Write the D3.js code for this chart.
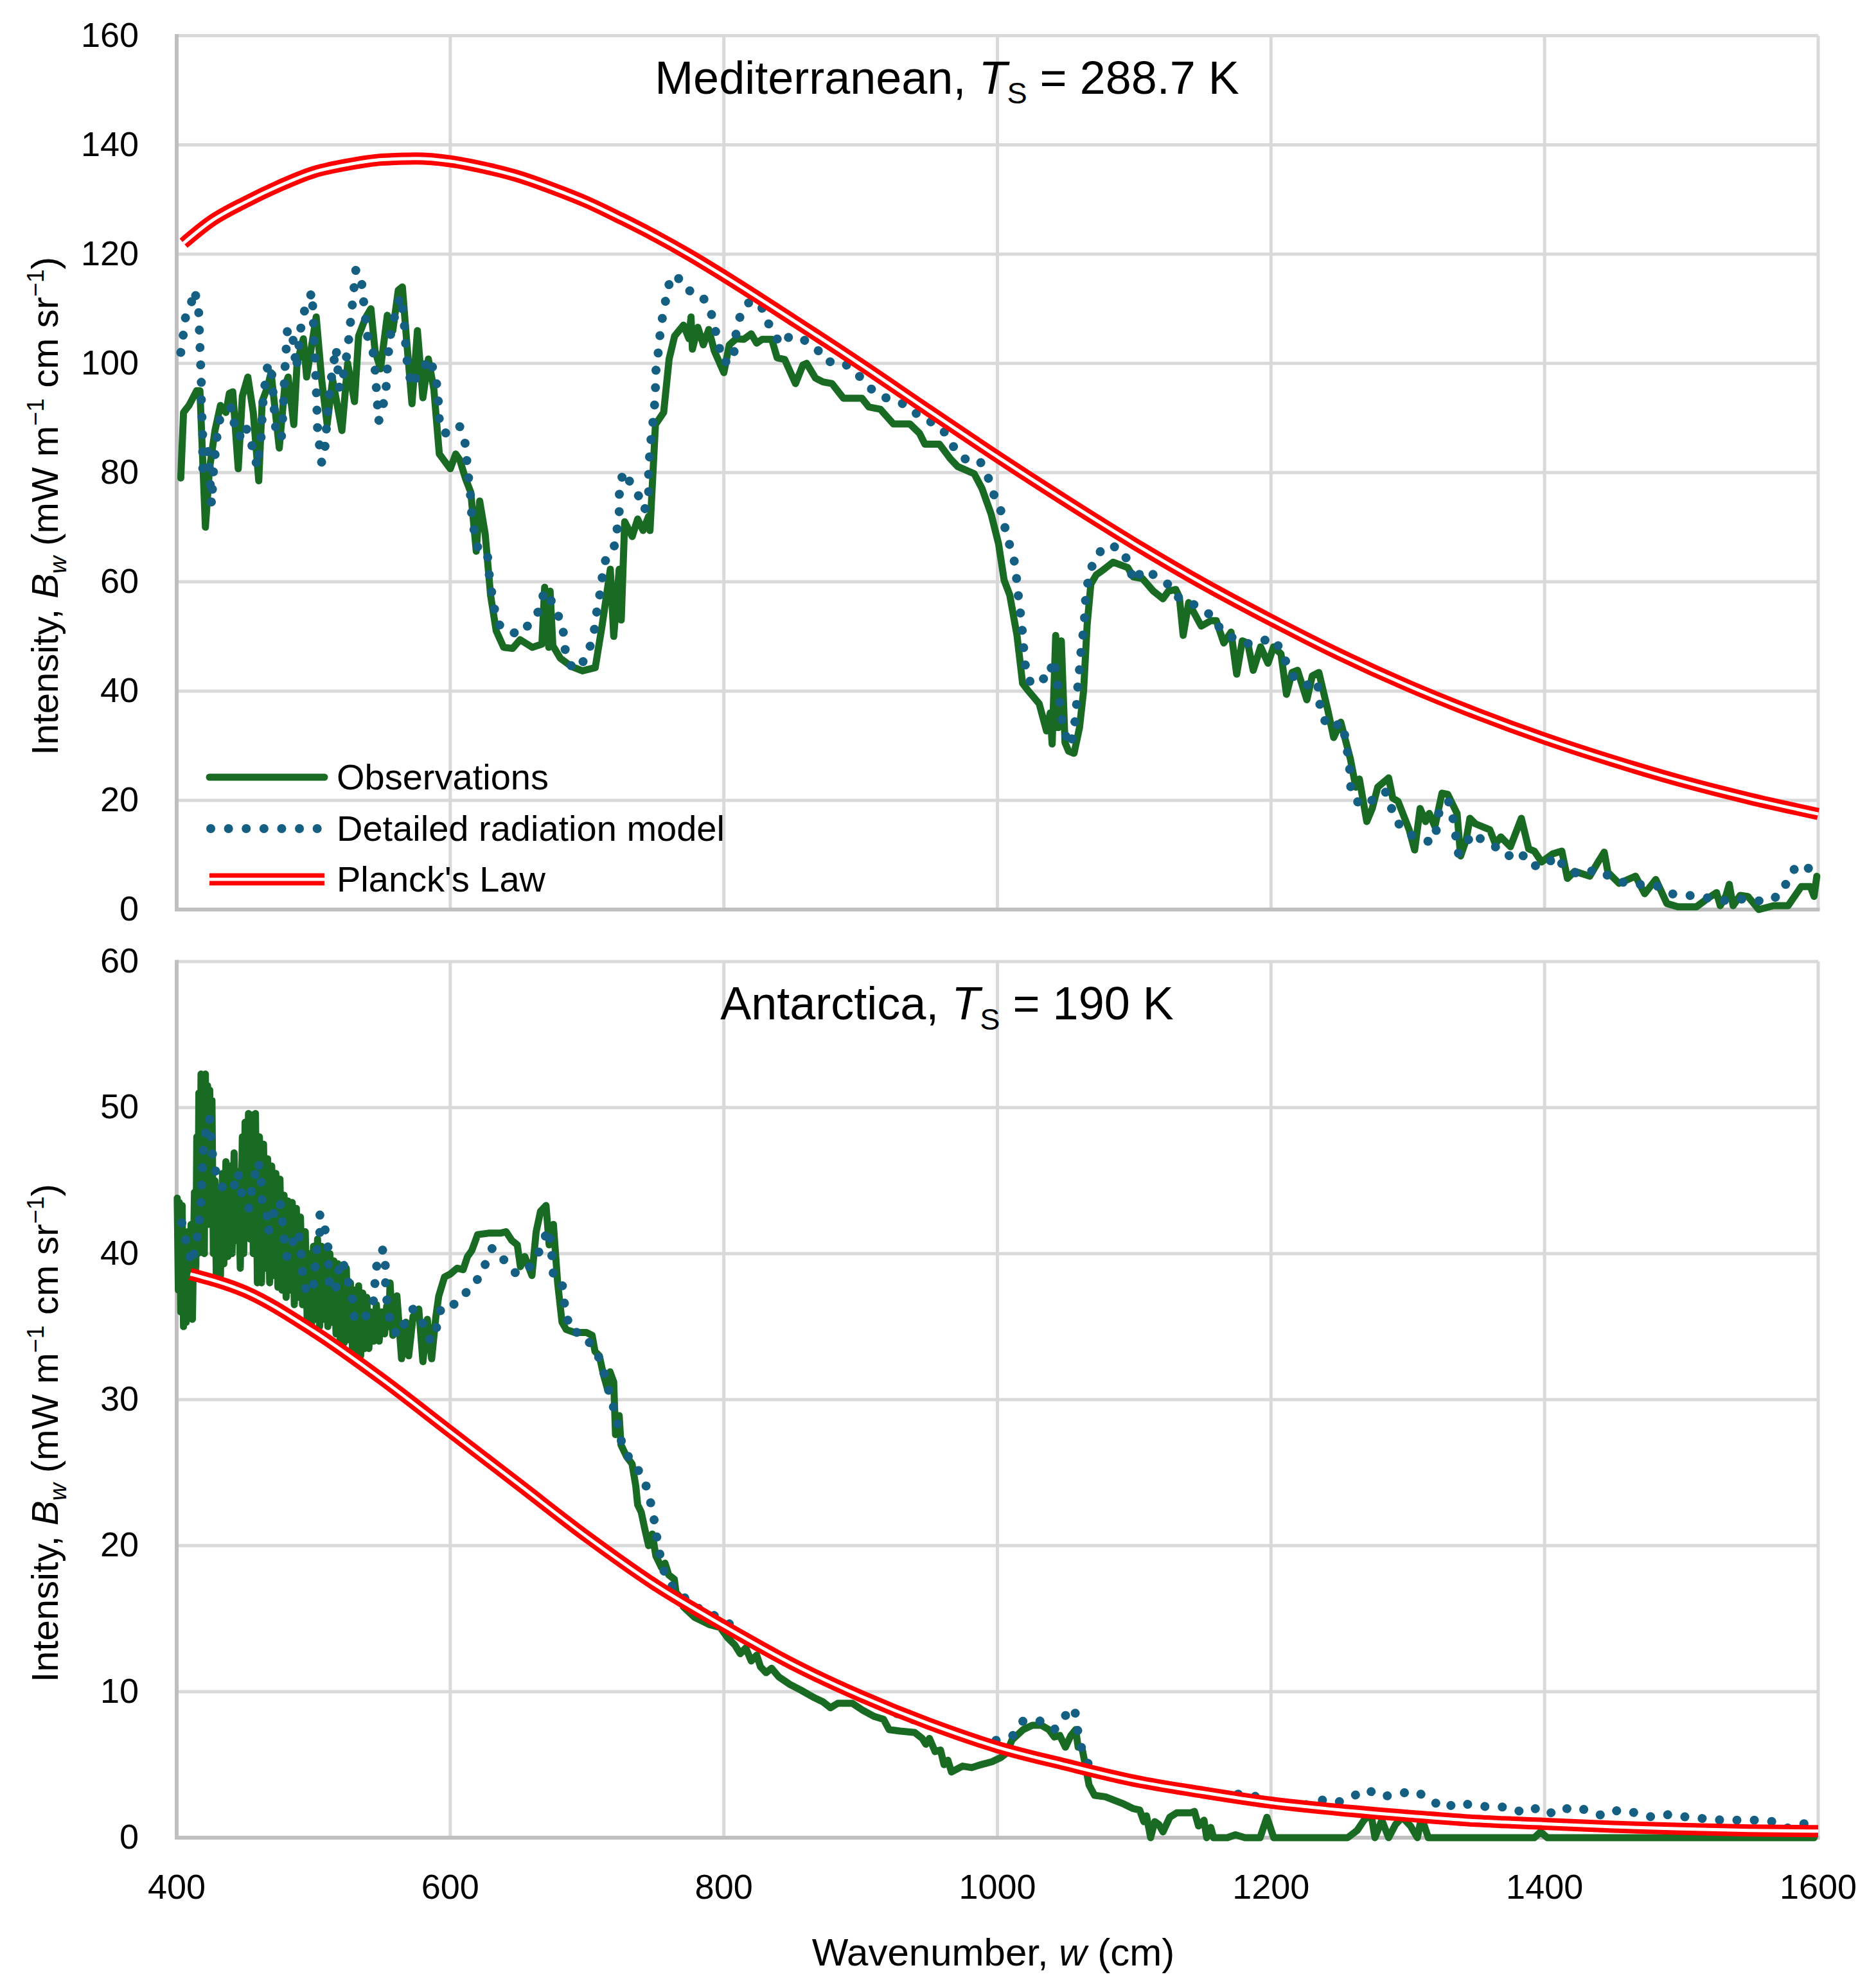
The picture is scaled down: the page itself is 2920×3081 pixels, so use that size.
<!DOCTYPE html>
<html>
<head>
<meta charset="utf-8">
<script src="https://cdn.jsdelivr.net/npm/d3@7"></script>
<style>
  html, body { margin: 0; padding: 0; background: #fff; }
  svg { display: block; font-family: "Liberation Sans", Arial, sans-serif; }
</style>
</head>
<body>
<svg id="chart" width="2920" height="3081"></svg>
<script>
// ---- data (wavenumber cm-1, intensity mW m-1 cm sr-1) ----
const xTicks = [400, 600, 800, 1000, 1200, 1400, 1600];
const medTicks = [0, 20, 40, 60, 80, 100, 120, 140, 160];
const antTicks = [0, 10, 20, 30, 40, 50, 60];
const seriesNames = ["Observations", "Detailed radiation model", "Planck's Law"];

const medObs = [[403,79],[405,91],[409,92.3],[414.6,95],[417,95],[421,70],[424,80.7],[428,87.7],[432,92.3],[436,91],[438.5,94.5],[441,94.8],[445,80.7],[448,94],[452,97.5],[456,91],[460,78.5],[462.5,93],[466.6,95.8],[469,98.3],[475,84.5],[479,95.8],[481.5,97.5],[485.6,88.8],[488,100],[492.6,104.5],[495,97.5],[502,108.5],[506,97],[510,88.8],[514,97],[520.8,87.7],[525,100],[530,93],[533,105],[538,108.3],[542,110],[545,102.3],[549,99],[554,108.8],[558,106],[562,113.4],[565,114],[568,104.5],[572,92.6],[576,106],[580,93.7],[584,100.8],[588,95.3],[592,83.4],[600,80.7],[604,83.4],[607,82.3],[611,79],[615,76.4],[619,65.6],[621.5,74.8],[625.5,68.8],[629.5,57.5],[633.6,51],[639,48],[645.6,47.8],[651,49.4],[660,48],[667,48.6],[669,59],[672,48],[673,58.3],[675,48.3],[680.5,46],[688.6,44.5],[696.6,43.7],[706,44.3],[711,52],[717,62.3],[719.5,50],[723.5,62.3],[725,53],[727.5,71],[733,68.3],[737,71.5],[741,69.4],[745,72],[746,69.4],[750,88.8],[756,91],[760,100.8],[764,105],[770.5,107],[774.5,104.5],[776,108.5],[777,102.6],[781,106.6],[785,103.4],[789,106.2],[793,102.3],[800,98.3],[804,103.4],[809,104.5],[814.6,104.4],[820,105.4],[824,103.7],[828,104.4],[835,104.4],[839,101],[844.5,100.7],[852.4,96.3],[857.8,99.7],[860.5,100],[867,97.3],[872.5,96.6],[879,96.3],[887.5,93.6],[901,93.6],[906,92],[914.4,91.6],[924,88.9],[936,88.9],[943,87.2],[947,85.2],[957.6,85.2],[965.7,82.5],[971,81.1],[983,79.8],[988.7,77.1],[995.4,72.4],[1000.8,67],[1004.9,60.3],[1009,57.6],[1014.3,50.2],[1018.4,41.4],[1022.4,40.1],[1030.5,37.7],[1035.9,32.7],[1038.6,36],[1040,30.3],[1042.6,50.2],[1044.5,33.3],[1046.7,49.2],[1049.4,30.6],[1052,29],[1056,28.6],[1060,33.3],[1063,40.1],[1065.6,52.2],[1068.3,59.6],[1072.3,61.3],[1076.4,62],[1084.5,63.6],[1095.3,62.6],[1099.3,60.9],[1106,60.6],[1114,58.3],[1121,56.9],[1125,58.3],[1130.4,58.6],[1133,57.2],[1135.8,50.2],[1139.8,56.2],[1142.5,54.9],[1149,51.9],[1156,52.9],[1160,52.9],[1165.5,48.8],[1170.8,50.8],[1174.9,43.1],[1179,49.2],[1183,48.8],[1187,43.8],[1192.4,48.1],[1197.8,45.1],[1201.9,48.1],[1207.3,46.8],[1211.3,39.4],[1215.4,43.4],[1219.4,43.8],[1226.2,38.4],[1230.2,42.8],[1235,43.4],[1241.7,36.3],[1245.8,31.5],[1251,34.3],[1258,27.6],[1262,22.4],[1264.6,23.9],[1270,16.1],[1274,18.5],[1278,22.4],[1286,24.1],[1289,20.4],[1292.9,19.8],[1301,14.6],[1305,10.9],[1309,18.5],[1313,16.1],[1315.7,17.6],[1319.8,15.2],[1325,21.3],[1329.2,21.1],[1336,17.6],[1338.6,9.8],[1342.7,12.8],[1345.4,16.7],[1349.4,15.7],[1360,14.6],[1364,12],[1368,13.3],[1375,11.5],[1383,16.7],[1388.4,11.1],[1392.5,10.7],[1397.8,8.7],[1406,10.2],[1412.6,10.7],[1416.7,5.7],[1422,7],[1433,6.1],[1439.6,8.9],[1443.6,10.5],[1446.3,6.8],[1454.4,4.8],[1466.5,6.1],[1473.2,2.9],[1481.3,5.5],[1489.4,1.1],[1497.5,0.5],[1511,0.5],[1519,2],[1525.7,3.1],[1528.4,0.7],[1532.5,2.5],[1535,4.6],[1537.8,0.7],[1543,2.6],[1548.6,2.4],[1556.6,0],[1567.4,0.7],[1578,0.7],[1587.6,4.2],[1594.3,4.2],[1597,2.4],[1599,6.1]];

const medModel = [[403,102],[405,105.6],[406.5,108.5],[410.6,111],[413,113.4],[416,110],[416.5,106.6],[417.5,99.9],[418,97],[418,93.7],[419,87],[419,80.7],[423,84],[425.5,74.2],[427,80.7],[429.7,87.2],[432,90.4],[440.4,92],[441.6,89.4],[445.7,86.4],[449.7,88.8],[453.7,86.4],[456.4,83.4],[459,81],[461.7,86.4],[463,92.6],[465.8,99],[469,100],[471,92.6],[472.5,87.7],[476.5,86.1],[478,92],[479,98.5],[481,106.4],[484.5,105.6],[487.5,99],[491,107],[494,110.2],[499,113.1],[501,101.2],[502,95.8],[503,87.7],[506,81.8],[508.6,85],[510,90],[512.5,96.4],[516.5,102.9],[519,95.3],[523,99],[525.8,104.5],[528.5,111],[531,117.2],[535,115.3],[536.6,111.5],[538,108.3],[539.5,105],[543.6,102],[545,99],[546,95.3],[547.6,89.4],[550,91],[553,95.3],[554.4,100.7],[555.7,104.5],[558.5,107.7],[561,110.4],[563.8,112.3],[566.4,107.2],[567.7,102.3],[569,99],[572,95.8],[577,98.5],[580,99],[585,101],[589,97.7],[591,94.8],[591.6,91.2],[592.5,88],[597,87.2],[600,88],[606.7,88.6],[610.7,85.6],[612,82.4],[613.4,79],[614.8,75.8],[615.6,72.5],[617.5,69.3],[620,66.4],[627,65.8],[628,62.3],[629.5,59.3],[631.7,56.1],[633.6,52.8],[640,51],[652,50.4],[659,52.8],[665.8,55],[668.5,58.3],[672.5,57.5],[676.5,54.5],[682,52.8],[683,49.6],[684.6,46.4],[690,43.9],[699,45.8],[703,48.8],[706,52],[707.4,55.3],[710,58.5],[711.4,61.5],[714,64.5],[720.8,66.9],[722,69.8],[723.5,72.8],[723.5,75.8],[725,79],[729,80.2],[731.5,78],[737,76.1],[742,73.1],[745,75.8],[745,79.9],[746,84.4],[747.6,88],[749,91.2],[750,94.8],[750,98],[751.7,101.2],[753,104.5],[754.4,107.5],[757,110.7],[758.5,113.9],[765,116.3],[772,113.5],[783,112.7],[790,110],[793,106.8],[796,103.8],[798.6,100.3],[806.7,100.3],[809.4,106.6],[813.4,109.8],[820,111.6],[829.4,109.8],[833.5,106.7],[841.6,103.4],[848.3,105],[857.8,104.4],[867,103],[875,100.3],[886,100.3],[895.5,98.7],[903.6,96.3],[913,94.1],[924,93.3],[936,92.1],[944,89.9],[956,88.9],[964.4,86.5],[969.8,83.8],[978,82.2],[987,82.2],[992.7,79.5],[996.8,76.3],[1002,73.5],[1005,70.4],[1008,67.5],[1012,64.3],[1013.8,61.1],[1015,58],[1016.5,54.9],[1018,51.6],[1019,48.5],[1020,45.3],[1022.4,42.1],[1026.5,41.2],[1031.8,42.4],[1037,42],[1041,45.8],[1043.5,42.8],[1044.8,39.4],[1046.7,36],[1048,32.8],[1053.4,30],[1056,33],[1057.5,36.4],[1058.8,41.1],[1060,44.1],[1061.5,48.5],[1063.4,51.8],[1064,55.2],[1065,58.6],[1067.7,61.6],[1071,64.5],[1080.4,66.8],[1091,66],[1096.6,63],[1099.3,60],[1106.9,62.3],[1115.5,61.1],[1125,59.5],[1131.7,57.2],[1139.8,56.6],[1147.9,55],[1157.9,53.7],[1164,50.8],[1173.5,49.6],[1183,48.7],[1189.7,48.7],[1200,49.8],[1208,47.5],[1212,44.5],[1218.8,41.7],[1227,41.1],[1234,41.9],[1235,38.7],[1237,35.5],[1243,33.2],[1252,34.2],[1254.6,31],[1256.5,27.8],[1258,24.6],[1258.4,21.5],[1265.4,19],[1274.6,20.1],[1283.4,21.7],[1287.5,18.9],[1292,16.1],[1300,13.8],[1309.4,13.1],[1317.5,12.2],[1321.5,15],[1323,18.3],[1329.7,19.9],[1333,16.7],[1335,13.5],[1337,10.3],[1341.9,11.5],[1346.7,14],[1356,12.5],[1364,11.5],[1372.3,9.7],[1382,10.7],[1389,8.1],[1400,7.9],[1408.6,9.9],[1415,7.5],[1427,6.3],[1437.7,7.4],[1445.8,6.3],[1457,5],[1469,4.6],[1481,4.5],[1492,2.9],[1505,2.6],[1517.6,2.2],[1529.7,1.6],[1541.8,2],[1552.6,1.6],[1564.7,1.6],[1574,3.1],[1578.6,6.2],[1585.7,8.3],[1594.4,7.4],[1598.4,9.8]];

const medPlanck = [[405,122],[425,126],[450,129.5],[475,132.5],[500,135],[525,136.4],[550,137.3],[575,137.5],[600,137],[625,135.8],[650,134.2],[675,132],[700,129.5],[725,126.5],[750,123.3],[775,119.8],[800,116],[850,108],[900,99.8],[950,91.3],[1000,82.9],[1050,74.8],[1100,67],[1150,59.7],[1200,53],[1250,46.7],[1300,41],[1350,35.9],[1400,31.3],[1450,27.2],[1500,23.5],[1550,20.3],[1600,17.5]];

const antObs = [[400.4,43.8],[401.2,37.5],[402,43.5],[403,36],[404,43.3],[405,35],[406,41],[407,35.3],[408,41.5],[409,36],[410.5,42],[411.5,35.5],[413,44.2],[414,39],[414.7,48],[415.5,40],[416.2,51],[417,42],[417.8,52.3],[418.6,43],[419.4,52],[420.2,40],[421,52.3],[421.8,44],[422.6,51.5],[423.4,42],[424.2,51.2],[425,45],[425.8,50.5],[426.8,40],[428,45],[429,38.2],[430.5,44],[432,38.5],[433.5,45.5],[434.5,39.3],[436,46.3],[437.5,39.8],[439,46],[440.5,40],[442,46.9],[443.5,40.9],[445,45.6],[446.5,39],[448,48],[449,40],[450,49],[451.3,42],[452.5,49.6],[453.5,41],[455,49.5],[456,40],[457.6,49.6],[459,38],[460.5,48],[462,38],[463.5,47.5],[465,39],[466.5,46.5],[468,38],[469.5,46],[471,38.5],[472.5,45.5],[474,37.7],[475.5,45.1],[477,37.5],[478.5,44],[480,37],[481.5,43.6],[483,37.5],[484.5,43.5],[486,36.5],[487.5,43.1],[489,37],[490.5,42.5],[492,36.5],[494,41.5],[495.5,35],[497,40],[498.5,34.8],[500,40.5],[501.5,35.5],[503,41],[504.5,35],[506,40.5],[507.5,35.5],[509,40.2],[510.5,35],[512,40],[513.5,35.3],[515,39.5],[516.5,34.5],[518,39.3],[519.5,34],[521,38.5],[522.5,33.9],[524,39],[525.5,34.1],[527,38],[528.5,33.5],[530,37.5],[531.5,33],[533,37.8],[534.5,33],[536,37.3],[537.5,33.5],[539,37],[540.5,33.5],[542,36],[544,34],[546,36.5],[548,34],[550,36],[552,34.5],[553.5,36.4],[555,35],[556,38],[558,34.4],[561,37.1],[564.4,32.8],[567.5,35.3],[569.6,33],[572.8,35.7],[577,36.2],[580,32.6],[583.2,35.5],[586.4,32.8],[589.5,35.7],[591.6,37.1],[595.8,38.4],[600,38.6],[605,39],[609.4,38.9],[612.6,39.8],[615.7,40.2],[620,41.3],[628,41.4],[636.6,41.4],[640.8,41.5],[645,40.9],[649,40.6],[651.3,39.1],[654.5,39.8],[659.7,38.5],[662.8,41.5],[666,42.9],[670,43.3],[672.3,40.6],[675.4,42],[678.5,38],[681.7,35.3],[684.8,34.8],[691,34.6],[699.5,34.6],[703.7,34.4],[705.8,33.3],[709,33],[712,31.7],[715.3,30.6],[716.8,31.9],[719.5,31.2],[720.8,27.6],[723.5,28.9],[724.8,26.9],[728.9,26.1],[732.9,25.6],[735.6,24.1],[737,22.8],[739.6,22.3],[742.3,21.1],[745,20],[747.7,20.8],[750.3,19.3],[754.4,18.5],[757,18.8],[759.7,18],[763.8,17.7],[765,16.8],[767.8,16.5],[770.5,15.8],[778.5,15.1],[789.3,14.6],[797.3,14.4],[802.7,13.7],[808,13.2],[812,12.6],[816,13],[820,12.1],[824,12.5],[826.8,11.7],[830.9,11.3],[834.9,11.6],[840.3,11],[848.3,10.5],[856.4,10.1],[865.8,9.6],[872.5,9.3],[877.9,8.9],[883.2,9.2],[894,9.2],[902,8.7],[910,8.3],[916.8,8.1],[920.8,7.4],[928.9,7.3],[939.6,7.2],[945,6.8],[947.7,6.4],[950.3,6.8],[954.4,5.9],[958.4,6],[961,5],[963.8,5.3],[966.4,4.5],[974.5,4.9],[981.2,4.8],[987.9,5],[996,5.2],[1002.7,5.5],[1006.7,5.8],[1010.7,6.7],[1018.8,7.4],[1025.5,7.7],[1032.2,7.7],[1037.6,7.4],[1041.6,6.9],[1045.6,7],[1049.7,6.2],[1053.7,7],[1057.2,7.4],[1059,6.2],[1061.7,6.2],[1064.4,4.9],[1067,3.6],[1071,2.9],[1079,2.8],[1092.5,2.3],[1099,2],[1104,1.9],[1107,1.1],[1109,1.5],[1112,0],[1115,1.1],[1118,0.9],[1121,0.4],[1126,1.4],[1131,1.7],[1141,1.7],[1144,1.8],[1147,0.8],[1151,1.2],[1153,0],[1156,0.7],[1158,0],[1168,0],[1174,0.2],[1181,0],[1192,0],[1197,1.4],[1202,0],[1256,0],[1263,0.5],[1268,1.2],[1273,1.7],[1276,0],[1281,1.2],[1286,0],[1291,0.9],[1296,1.4],[1302,0.8],[1307,0],[1310,1.4],[1315,0],[1322,0],[1392.5,0],[1397,0.4],[1402,0],[1597,0]];

const antModel = [[403.8,42.1],[406,41.1],[408.4,40.5],[410.5,39.3],[414.7,40.7],[415.7,41.8],[417.8,43],[417.8,44.2],[418.8,45.5],[418.8,46.6],[420.5,47.7],[422,48.9],[424,49.3],[425,48.2],[426,46.9],[428.3,45.7],[432.5,44.6],[441,44.3],[445,45.6],[446,44.7],[449,43.6],[453,43.1],[454.5,44.2],[457.6,45.5],[458.6,46.3],[461.8,45.8],[461.8,44.2],[462.8,43.3],[466,42.6],[467,41.5],[470,42.4],[472,43.1],[475.4,43.6],[477.5,42],[478.5,41],[480.6,39.8],[483.8,40],[485.9,41.5],[490,41.1],[491,40],[492,38.7],[494.2,37.6],[499.5,37.3],[500.5,38.4],[501.6,39.6],[502.6,40.4],[504.7,41.5],[504.7,42.7],[506.8,42.2],[510,41.1],[511,40],[511,38.7],[512,37.5],[516.3,37.5],[517.3,38.6],[521.5,39.6],[523.6,38.4],[526.7,37.8],[528.8,36.7],[529.8,35.6],[533,35.3],[538,35.7],[543.5,36.4],[544.5,37.5],[545.6,38.7],[546.6,39.4],[548.7,40],[551,40.3],[552.5,39.6],[552.5,38.4],[553,37.2],[557,34.8],[563.4,34.4],[567.5,35.5],[572.8,36.2],[580,35.2],[585.3,34.1],[588.5,34.1],[590.6,35.3],[593.7,36.4],[600,36.4],[608,36.8],[614.7,37.8],[623,38.5],[626,39.4],[630.8,40.4],[639,39.6],[647,38.7],[655,38.7],[661.8,39.6],[667,40.5],[671.2,41.7],[673.3,40.9],[674.3,39.8],[675.4,38.5],[681.7,38.1],[682.7,37],[685.2,35.7],[688,34.7],[697.4,34.5],[704.7,33.5],[711,32.5],[713.7,31.2],[717.9,30.1],[720.4,29],[723.6,27.9],[726,26.7],[733,25.7],[740.4,24.8],[745,23.6],[747.7,22.4],[750,21.3],[751.7,20.1],[754.4,18.9],[757.6,17.8],[765,16.9],[775.8,16.1],[786,15.4],[797.3,15.1],[807.5,14.4],[817,13.6],[827.4,13],[839,12.3],[850,12],[861,11.3],[872,10.8],[883,10.3],[894.8,9.9],[906,9.5],[917.6,8.9],[928.9,8.4],[941,8],[953,7.6],[965,7.3],[976.6,6.9],[988.5,6.5],[1001,6.7],[1011.3,7],[1018.8,8],[1030.9,8],[1041.6,7.4],[1048.9,8.3],[1056.4,8.9],[1058,7.7],[1060.4,6.5],[1063.8,5.4],[1071,4.5],[1083,4.2],[1095.3,4],[1108.7,3.8],[1120.8,3.5],[1132.9,3.4],[1148,3.2],[1161,3],[1174,3],[1187,2.9],[1198,2.4],[1211,2.3],[1223.6,2.2],[1236,2.6],[1248,2.4],[1259,2.8],[1270,3.3],[1281,2.8],[1292.5,3],[1305,3.2],[1315.4,2.7],[1326,2],[1336.7,2.4],[1349,2.2],[1361,2.1],[1373.4,2.1],[1385,1.7],[1396.4,2.1],[1407,1.6],[1419,2.1],[1430.8,1.9],[1442.6,1.5],[1454.4,1.9],[1467,1.7],[1479,1.4],[1491.8,1.6],[1504.6,1.4],[1517,1.3],[1530,1.2],[1542.3,1.2],[1555.4,1.2],[1567.9,1.1],[1579.3,0.6],[1590.8,1]];

const antPlanck = [[410,38.6],[450,37.4],[500,34.7],[550,31.4],[600,27.8],[650,24.2],[700,20.6],[750,17.3],[800,14.5],[850,11.9],[900,9.7],[950,7.8],[1000,6.2],[1050,5],[1100,3.9],[1150,3.1],[1200,2.4],[1250,1.9],[1300,1.5],[1350,1.15],[1400,0.95],[1450,0.75],[1500,0.6],[1550,0.5],[1600,0.45]];

// ---- layout ----
const W = 2920, H = 3081;
const left = 275, right = 2830;
const GREEN = "#196b24", BLUE = "#156082", RED = "#ff0000";
const GRID = "#d9d9d9", AXIS = "#bfbfbf";

const svg = d3.select("#chart");
svg.append("rect").attr("width", W).attr("height", H).attr("fill", "#fff");

const x = d3.scaleLinear().domain([400, 1600]).range([left, right]);

// writes mixed italic / sub / superscript runs into a text element
function rich(text, parts, size) {
  let shift = 0;
  parts.forEach(p => {
    const ts = text.append("tspan").text(p.t);
    let target = 0;
    if (p.sub) target = size * 0.22;
    if (p.sup) target = -size * 0.38;
    if (p.sub || p.sup) ts.attr("font-size", size * 0.65);
    if (target !== shift) { ts.attr("dy", target - shift); shift = target; }
    if (p.i) ts.attr("font-style", "italic");
  });
}

const panels = [
  { top: 55.5, bottom: 1416, max: 160, ticks: medTicks, obs: medObs, model: medModel, planck: medPlanck,
    title: [{t: "Mediterranean, "}, {t: "T", i: true}, {t: "S", sub: true}, {t: " = 288.7 K"}], legend: true },
  { top: 1497, bottom: 2861, max: 60, ticks: antTicks, obs: antObs, model: antModel, planck: antPlanck,
    title: [{t: "Antarctica, "}, {t: "T", i: true}, {t: "S", sub: true}, {t: " = 190 K"}], legend: false }
];

panels.forEach((p, idx) => {
  const y = d3.scaleLinear().domain([0, p.max]).range([p.bottom, p.top]);
  const g = svg.append("g");

  // gridlines
  g.append("g").selectAll("line").data(p.ticks.filter(d => d > 0)).join("line")
    .attr("x1", left).attr("x2", right).attr("y1", d => y(d)).attr("y2", d => y(d))
    .attr("stroke", GRID).attr("stroke-width", 5);
  g.append("g").selectAll("line").data(xTicks.filter(d => d > 400)).join("line")
    .attr("x1", d => x(d)).attr("x2", d => x(d)).attr("y1", p.top).attr("y2", p.bottom)
    .attr("stroke", GRID).attr("stroke-width", 5);

  // axis lines
  g.append("line").attr("x1", left).attr("x2", left).attr("y1", p.top - 2.5).attr("y2", p.bottom + 3)
    .attr("stroke", AXIS).attr("stroke-width", 6);
  g.append("line").attr("x1", left - 3).attr("x2", right + 2.5).attr("y1", p.bottom).attr("y2", p.bottom)
    .attr("stroke", AXIS).attr("stroke-width", 6);

  // y tick labels
  g.append("g").selectAll("text").data(p.ticks).join("text")
    .attr("x", 216).attr("y", d => y(d) + 17)
    .attr("text-anchor", "end").attr("font-size", 54).attr("fill", "#000")
    .text(d => d);

  // y axis title
  const yt = g.append("text")
    .attr("transform", `translate(90,${(p.top + p.bottom) / 2 + 52}) rotate(-90)`)
    .attr("text-anchor", "middle").attr("font-size", 58).attr("fill", "#000");
  rich(yt, [{t: "Intensity, "}, {t: "B", i: true}, {t: "w", i: true, sub: true}, {t: " (mW m"},
            {t: "\u22121", sup: true}, {t: " cm sr"}, {t: "\u22121", sup: true}, {t: ")"}], 58);

  // panel title
  const tt = g.append("text").attr("x", 1474).attr("y", p.top + 90)
    .attr("text-anchor", "middle").attr("font-size", 72).attr("fill", "#000");
  rich(tt, p.title, 72);

  // series
  const line = d3.line().x(d => x(d[0])).y(d => y(d[1]));
  g.append("path").attr("d", line(p.obs)).attr("fill", "none")
    .attr("stroke", GREEN).attr("stroke-width", 11)
    .attr("stroke-linejoin", "round").attr("stroke-linecap", "round");
  g.append("path").attr("d", line(p.model)).attr("fill", "none")
    .attr("stroke", BLUE).attr("stroke-width", 14)
    .attr("stroke-dasharray", "0.1 27").attr("stroke-linecap", "round");
  const smooth = d3.line().x(d => x(d[0])).y(d => y(d[1])).curve(d3.curveMonotoneX);
  g.append("path").attr("d", smooth(p.planck)).attr("fill", "none")
    .attr("stroke", RED).attr("stroke-width", 19);
  g.append("path").attr("d", smooth(p.planck)).attr("fill", "none")
    .attr("stroke", "#fff").attr("stroke-width", 5);

  // legend (top panel only)
  if (p.legend) {
    const rows = [1210, 1290, 1369];
    const lg = g.append("g");
    const lx1 = 326, lx2 = 505;
    lg.append("line").attr("x1", lx1).attr("x2", lx2).attr("y1", rows[0]).attr("y2", rows[0])
      .attr("stroke", GREEN).attr("stroke-width", 11).attr("stroke-linecap", "round");
    lg.append("line").attr("x1", lx1 + 2).attr("x2", lx2).attr("y1", rows[1]).attr("y2", rows[1])
      .attr("stroke", BLUE).attr("stroke-width", 14).attr("stroke-dasharray", "0.1 27.5").attr("stroke-linecap", "round");
    lg.append("line").attr("x1", lx1).attr("x2", lx2).attr("y1", rows[2]).attr("y2", rows[2])
      .attr("stroke", RED).attr("stroke-width", 19);
    lg.append("line").attr("x1", lx1).attr("x2", lx2).attr("y1", rows[2]).attr("y2", rows[2])
      .attr("stroke", "#fff").attr("stroke-width", 5);
    lg.selectAll("text").data(seriesNames).join("text")
      .attr("x", 524).attr("y", (d, i) => rows[i] + 19)
      .attr("font-size", 56).attr("fill", "#000").text(d => d);
  }

  // x tick labels under the bottom panel
  if (idx === panels.length - 1) {
    g.append("g").selectAll("text").data(xTicks).join("text")
      .attr("x", d => x(d)).attr("y", 2956)
      .attr("text-anchor", "middle").attr("font-size", 54).attr("fill", "#000")
      .text(d => d);
  }
});

// x axis title
const xt = svg.append("text").attr("x", 1546).attr("y", 3060)
  .attr("text-anchor", "middle").attr("font-size", 60).attr("fill", "#000");
rich(xt, [{t: "Wavenumber, "}, {t: "w", i: true}, {t: " (cm)"}], 60);
</script>
</body>
</html>
